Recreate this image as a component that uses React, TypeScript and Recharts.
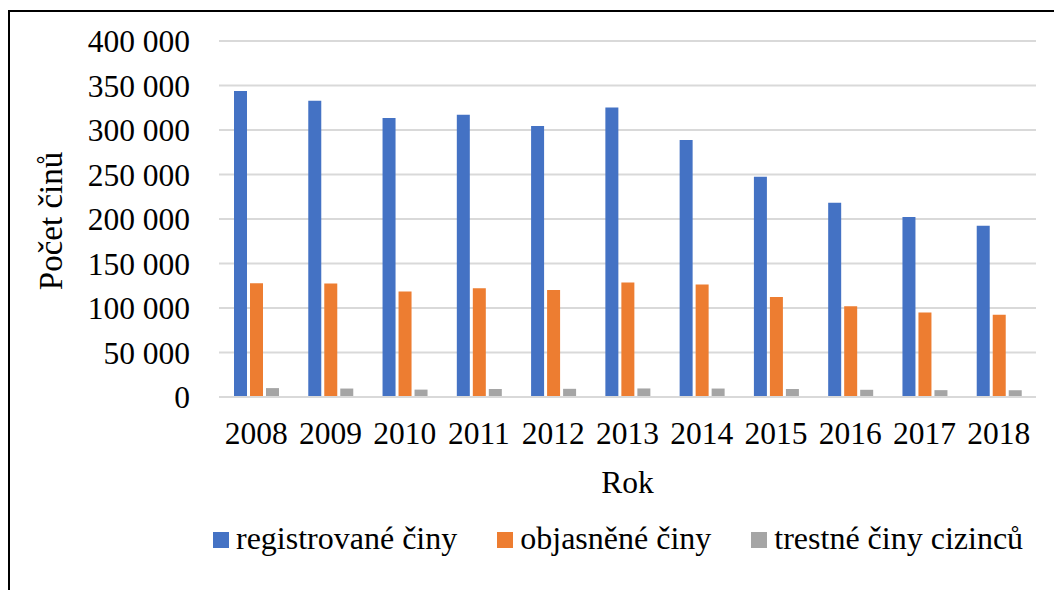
import { BarChart, Bar, XAxis, YAxis, CartesianGrid, Legend } from "recharts";

const years = ["2008", "2009", "2010", "2011", "2012", "2013", "2014", "2015", "2016", "2017", "2018"];
const registrovane = [343800, 332800, 313400, 317200, 304500, 325400, 288700, 247600, 218200, 202300, 192400];
const objasnene = [127900, 127600, 118500, 122300, 120300, 128700, 126300, 112400, 102000, 94900, 92400];
const cizinci = [10000, 9500, 8300, 9000, 9200, 9600, 9500, 9000, 8100, 7700, 7600];
const yTicks = [0, 50000, 100000, 150000, 200000, 250000, 300000, 350000, 400000];

const series = [
  { key: "registrovane", name: "registrované činy", color: "#4472C4" },
  { key: "objasnene", name: "objasněné činy", color: "#ED7D31" },
  { key: "cizinci", name: "trestné činy cizinců", color: "#A5A5A5" },
];

const data = years.map((rok, i) => ({
  rok,
  registrovane: registrovane[i],
  objasnene: objasnene[i],
  cizinci: cizinci[i],
}));

const FONT = '"Liberation Serif", "Times New Roman", Tinos';
const FS = 31.5;

const fmt = (v: number) => (v === 0 ? "0" : v.toLocaleString("en-US").replace(/,/g, " "));

const LegendBox = () => (
  <div
    style={{
      display: "flex",
      paddingLeft: 213,
      fontFamily: FONT,
      fontSize: 32,
      color: "#000",
      alignItems: "center",
      whiteSpace: "nowrap",
    }}
  >
    {series.map((s) => (
      <div key={s.key} style={{ display: "flex", alignItems: "center", marginRight: 40 }}>
        <span
          style={{ width: 16, height: 16, background: s.color, marginRight: 7, marginTop: 3, display: "inline-block" }}
        />
        <span style={{ fontFamily: FONT }}>{s.name}</span>
      </div>
    ))}
  </div>
);

export default function App() {
  return (
    <div style={{ position: "absolute", left: 0, top: 0, width: 1054, height: 590, background: "#fff", overflow: "hidden" }}>
      <div
        style={{
          position: "absolute",
          left: 8,
          top: 10,
          width: 1100,
          height: 700,
          borderLeft: "2px solid #000",
          borderTop: "2px solid #000",
        }}
      />
      <BarChart
        width={1054}
        height={590}
        data={data}
        margin={{ top: 41, right: 18, left: 0, bottom: 0 }}
        barSize={13}
        barGap={3}
        style={{ position: "absolute", left: 0, top: 0, fontFamily: FONT }}
      >
        <CartesianGrid vertical={false} stroke="#d9d9d9" strokeWidth={2} />
        <XAxis
          dataKey="rok"
          height={193}
          tickLine={false}
          stroke="#d9d9d9"
          strokeWidth={2}
          tickMargin={19}
          tick={{ fontFamily: FONT, fontSize: FS, fill: "#000" }}
          label={{
            content: (props: any) => {
              const vb = props.viewBox || { x: 219, width: 817 };
              return (
                <text x={vb.x + vb.width / 2} y={493} textAnchor="middle" fontFamily={FONT} fontSize={FS} fill="#000">
                  Rok
                </text>
              );
            },
          }}
        />
        <YAxis
          width={219}
          domain={[0, 400000]}
          ticks={yTicks}
          tickFormatter={fmt}
          axisLine={false}
          tickLine={false}
          tickMargin={23}
          tick={{ fontFamily: FONT, fontSize: FS, fill: "#000" }}
          label={{
            content: () => (
              <text
                x={61.5}
                y={221}
                transform="rotate(-90 61.5 221)"
                textAnchor="middle"
                fontFamily={FONT}
                fontSize={33}
                fill="#000"
              >
                Počet činů
              </text>
            ),
          }}
        />
        <Legend
          layout="horizontal"
          verticalAlign="middle"
          align="center"
          wrapperStyle={{ top: 520, left: 0, width: 1054 }}
          content={() => <LegendBox />}
        />
        {series.map((s) => (
          <Bar key={s.key} dataKey={s.key} name={s.name} fill={s.color} isAnimationActive={false} />
        ))}
      </BarChart>
    </div>
  );
}
